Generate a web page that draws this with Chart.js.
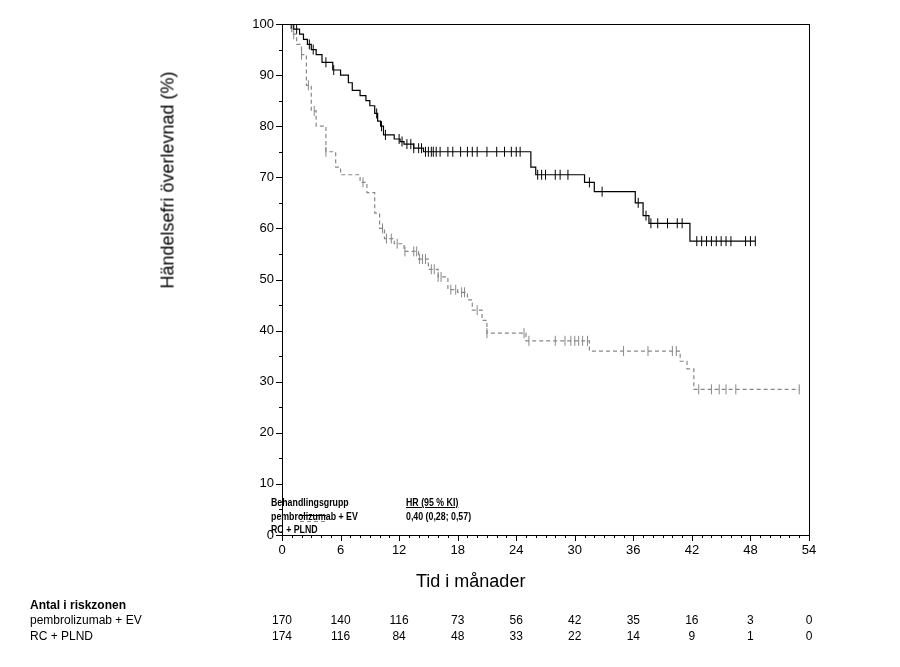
<!DOCTYPE html>
<html>
<head>
<meta charset="utf-8">
<script src="https://cdn.jsdelivr.net/npm/chart.js@4"></script>
<style>
  body { margin: 0; background: #fff; font-family: "Liberation Sans", Arial, sans-serif; }
  #wrap { position: relative; width: 900px; height: 667px; }
  .t { position: absolute; white-space: nowrap; color: #000; }
  .risk { font-size: 12px; transform: translateX(-50%); }
  .leg { font-family: "Liberation Sans Narrow", "Liberation Sans", sans-serif; font-weight: bold; font-size: 11px; transform: scaleX(0.8); transform-origin: left top; }
</style>
</head>
<body>
<div id="wrap"><canvas id="km" width="900" height="667"></canvas></div>
<script>
// Step curves: [month, survival %]
const pembroSteps = [[0,100],[1.2,99],[1.8,98],[2.2,97],[2.6,96],[3.0,95],[3.5,94],[4.1,92.5],[5.2,91],[6.0,90],[6.8,88.5],[7.2,87],[8.0,86],[8.6,85],[9.0,84],[9.5,82.5],[9.8,81],[10.1,80],[10.4,78.3],[11.5,77.5],[12.1,77],[12.5,76.5],[13.5,75.7],[14.5,75],[25.5,72],[26.0,70.5],[31.0,69],[32.0,67.2],[36.2,65],[37.0,62.5],[37.6,61],[41.8,57.5],[48.5,57.5]];
const rcSteps = [[0,100],[1.0,98],[1.5,96],[2.0,94],[2.5,88],[3.0,83],[3.5,80],[4.5,75],[5.5,72],[6.0,70.5],[8.0,69],[8.7,67],[9.5,63],[10.0,60],[10.5,58],[11.5,57],[12.5,55.5],[14.0,54],[15.0,52],[16.0,50.5],[17.0,48],[18.0,47.5],[19.0,46],[19.5,44],[20.5,42],[21.0,39.5],[25.0,38],[31.5,36],[40.8,34],[41.5,32.5],[42.2,28.5],[53,28.5]];
// Censored times
const pembroCensor = [1.0,1.5,2.8,3.2,4.5,5.3,9.7,10.2,10.6,12.0,12.3,12.8,13.2,13.5,14.0,14.3,14.7,15.0,15.3,15.5,15.8,16.2,17.0,17.5,18.3,19.0,19.5,20.0,21.0,22.0,22.8,23.5,24.0,24.4,26.2,26.6,27.0,28.0,28.5,29.3,31.5,32.8,36.5,37.3,37.8,38.5,39.5,40.5,41.0,42.5,43.0,43.5,44.0,44.5,45.0,45.5,46.0,47.5,48.0,48.5];
const rcCensor = [0.9,1.2,2.0,2.7,3.3,4.5,8.3,10.3,10.7,11.2,11.8,12.6,13.5,13.8,14.1,14.4,14.7,15.3,15.6,16.0,16.3,17.3,17.8,18.4,18.7,20.0,21.0,24.8,25.3,28.0,29.0,29.6,30.0,30.4,30.8,31.3,35.0,37.5,40.0,40.4,42.7,44.0,44.8,45.5,46.5,53];
const xTicks = [0,6,12,18,24,30,36,42,48,54];
const riskPembro = [170,140,116,73,56,42,35,16,3,0];
const riskRc = [174,116,84,48,33,22,14,9,1,0];

function survAt(steps, t) {
  let v = steps[0][1];
  for (const s of steps) { if (s[0] <= t) v = s[1]; }
  return v;
}
const toPts = steps => steps.map(s => ({ x: s[0], y: s[1] }));
const censorPts = (steps, times) => times.map(t => ({ x: t, y: survAt(steps, t) }));

const frame = {
  id: 'frame',
  afterDraw(chart) {
    const { ctx, chartArea: a, scales: { x, y } } = chart;
    ctx.save();
    ctx.strokeStyle = '#000'; ctx.lineWidth = 1;
    ctx.strokeRect(a.left + 0.5, a.top + 0.5, a.right - a.left, a.bottom - a.top);
    ctx.beginPath();
    for (let m = 0; m <= 54; m++) {
      const px = Math.round(x.getPixelForValue(m)) + 0.5;
      ctx.moveTo(px, a.bottom); ctx.lineTo(px, a.bottom + (m % 6 ? 3 : 6));
    }
    for (let p = 0; p <= 100; p += 5) {
      const py = Math.round(y.getPixelForValue(p)) + 0.5;
      ctx.moveTo(a.left, py); ctx.lineTo(a.left - (p % 10 ? 3 : 6), py);
    }
    ctx.stroke();
    // legend line samples
    ctx.beginPath(); ctx.strokeStyle = '#000';
    ctx.moveTo(300, 515.5); ctx.lineTo(326, 515.5); ctx.stroke();
    ctx.beginPath(); ctx.strokeStyle = '#888'; ctx.setLineDash([4, 3]);
    ctx.moveTo(300, 521.5); ctx.lineTo(326, 521.5); ctx.stroke();
    ctx.restore();
  }
};

const chart = new Chart(document.getElementById('km'), {
  type: 'line',
  data: {
    datasets: [
      { data: toPts(pembroSteps), stepped: 'before', borderColor: '#000', borderWidth: 1.2, pointRadius: 0 },
      { data: toPts(rcSteps), stepped: 'before', borderColor: '#888', borderWidth: 1.2, borderDash: [4, 3], pointRadius: 0 },
      { data: censorPts(pembroSteps, pembroCensor), showLine: false, pointStyle: 'line', rotation: 90, pointRadius: 5, borderColor: '#000', borderWidth: 1 },
      { data: censorPts(rcSteps, rcCensor), showLine: false, pointStyle: 'line', rotation: 90, pointRadius: 5, borderColor: '#888', borderWidth: 1 }
    ]
  },
  options: {
    responsive: false, animation: false,
    layout: { padding: { left: 222, right: 91, top: 24, bottom: 72 } },
    plugins: { legend: { display: false }, tooltip: { enabled: false } },
    scales: {
      x: {
        type: 'linear', min: 0, max: 54,
        afterFit: s => { s.height = 60; },
        afterBuildTicks: s => { s.ticks = xTicks.map(v => ({ value: v })); },
        grid: { display: false, drawTicks: false }, border: { display: false },
        ticks: { color: '#000', font: { size: 13, family: 'Liberation Sans' }, padding: 8 }
      },
      y: {
        min: 0, max: 100,
        afterFit: s => { s.width = 60; },
        grid: { display: false, drawTicks: false }, border: { display: false },
        ticks: { stepSize: 10, color: '#000', font: { size: 13, family: 'Liberation Sans' }, padding: 8 }
      }
    }
  },
  plugins: [frame]
});

const wrap = document.getElementById('wrap');
function addText(txt, x, y, cls, style) {
  const d = document.createElement('div');
  d.className = 't ' + (cls || '');
  d.textContent = txt;
  d.style.left = x + 'px'; d.style.top = y + 'px';
  if (style) Object.assign(d.style, style);
  wrap.appendChild(d);
  return d;
}
addText('Händelsefri överlevnad (%)', 168, 180, '', { fontSize: '18px', transform: 'translate(-50%,-50%) rotate(-90deg)' });
addText('Tid i månader', 416, 571, '', { fontSize: '18px' });
addText('Behandlingsgrupp', 271, 496, 'leg');
addText('HR (95 % KI)', 406, 496, 'leg', { textDecoration: 'underline' });
addText('pembrolizumab + EV', 271, 510, 'leg');
addText('0,40 (0,28; 0,57)', 406, 510, 'leg');
addText('RC + PLND', 271, 523, 'leg');
addText('Antal i riskzonen', 30, 598, '', { fontSize: '12px', fontWeight: 'bold' });
addText('pembrolizumab + EV', 30, 613, '', { fontSize: '12px' });
addText('RC + PLND', 30, 629, '', { fontSize: '12px' });
xTicks.forEach((m, i) => {
  const px = chart.scales.x.getPixelForValue(m);
  addText(String(riskPembro[i]), px, 613, 'risk');
  addText(String(riskRc[i]), px, 629, 'risk');
});
</script>
</body>
</html>
